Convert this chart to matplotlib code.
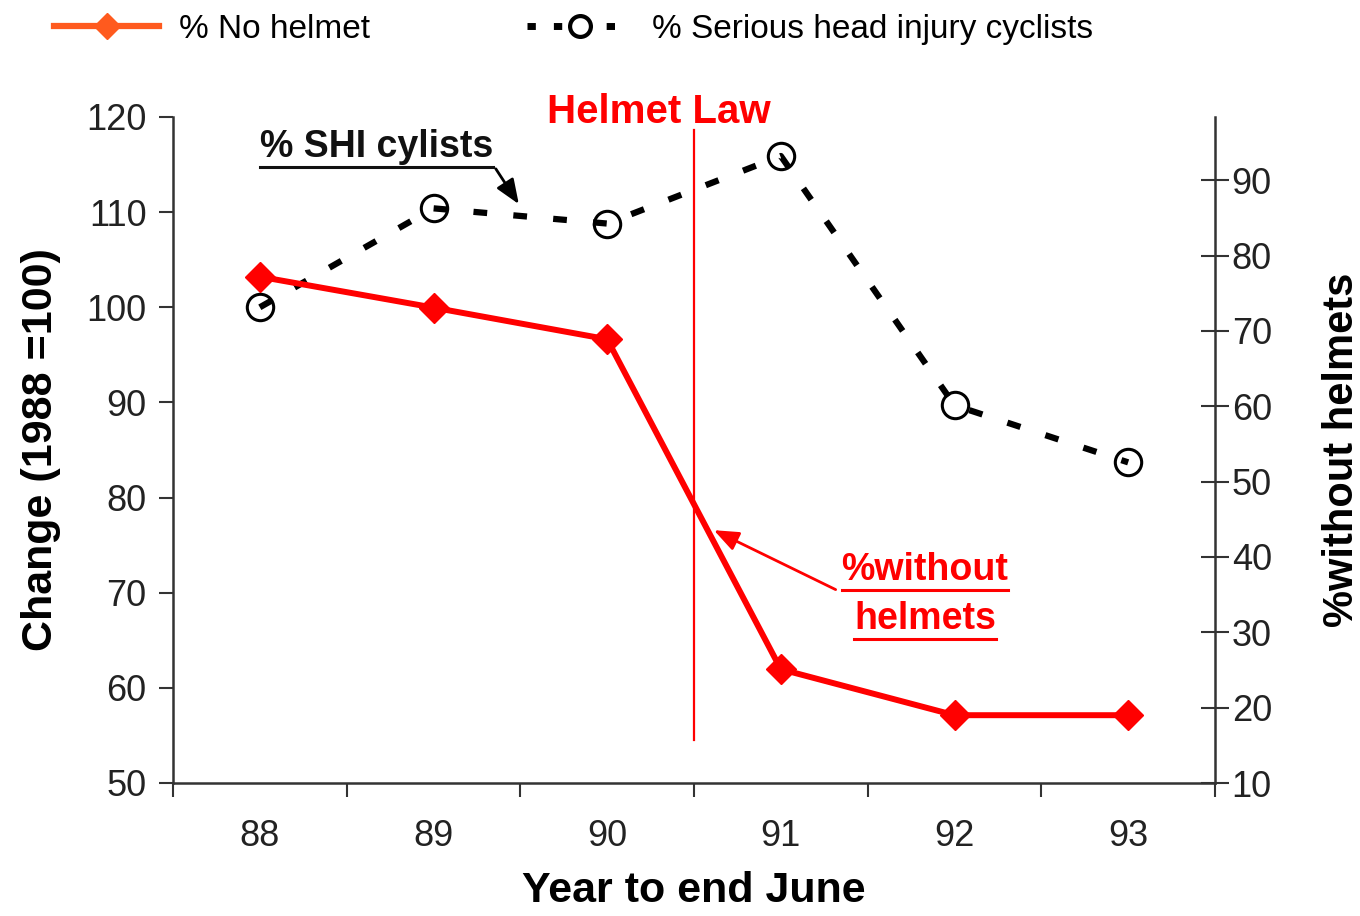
import matplotlib
matplotlib.use("Agg")
import matplotlib.pyplot as plt
from matplotlib.lines import Line2D

plt.rcParams['font.family'] = ['Liberation Sans', 'DejaVu Sans']

# Data
years = [88, 89, 90, 91, 92, 93]
year_labels = ["88", "89", "90", "91", "92", "93"]
shi_change = [100.0, 110.4, 108.8, 115.9, 89.7, 83.7]     # left axis, 1988 = 100
no_helmet_pct = [77.2, 73.1, 68.9, 25.1, 19.0, 19.0]      # right axis, %
law_year = 90.5

fig = plt.figure(figsize=(13.6, 9.16), dpi=100)
ax = fig.add_axes([173/1360, 1 - 783/916, (1215 - 173)/1360, (783 - 117)/916])
ax2 = ax.twinx()

# serious head injury (left axis)
ax.plot(years, shi_change, color="black", lw=4.5, ls=(0, (2.2, 4.2)),
        marker="o", ms=19, mfc="none", mec="black", mew=2.2, zorder=3)

# helmet law line
ax.plot([law_year, law_year], [54.5, 118.6], color="red", lw=1.6, zorder=2)

# % without helmet (right axis)
ax2.plot(years, no_helmet_pct, color="red", lw=4.3, marker="D", ms=15,
         mfc="red", mec="red", zorder=4)

ax.set_xlim(87.5, 93.5)
ax.set_ylim(50, 120)
ax2.set_ylim(10, 98.4)

tc = "#222222"
ax.set_yticks(range(50, 121, 10))
ax.tick_params(axis="y", direction="out", length=10, width=1.5, color="#333333",
               labelsize=26, labelcolor=tc, pad=9)
edges = [87.5 + i for i in range(7)]
ax.set_xticks(edges)
ax.set_xticklabels([""] * len(edges))
ax.set_xticks(years, minor=True)
ax.set_xticklabels(year_labels, minor=True)
ax.tick_params(axis="x", which="major", direction="out", length=10, width=1.5, color="#333333")
ax.tick_params(axis="x", which="minor", length=0, labelsize=26, labelcolor=tc, pad=26)

ax2.set_yticks(range(10, 91, 10))
ax2.tick_params(axis="y", direction="inout", length=20, width=1.5, color="#333333",
                labelsize=26, labelcolor=tc, pad=2)

for s in ["top", "right"]:
    ax.spines[s].set_visible(False)
for s in ["top", "left", "bottom"]:
    ax2.spines[s].set_visible(False)
for a in (ax, ax2):
    for s in a.spines.values():
        s.set_linewidth(1.8)
        s.set_color("#333333")

ax.set_ylabel("Change (1988 =100)", fontsize=31, fontweight="bold", labelpad=18)
ax2.set_ylabel("%without helmets", fontsize=30, fontweight="bold", labelpad=36)
ax.set_xlabel("Year to end June", fontsize=31, fontweight="bold", labelpad=12)

# annotations
ax.text(90.3, 120.5, "Helmet Law", color="red", fontsize=29, fontweight="bold",
        ha="center", va="center", clip_on=False)
t_shi = ax.text(88.0, 116.8, "% SHI cylists", color="#111111", fontsize=27,
                fontweight="bold", ha="left", va="center")
ax.annotate("", xy=(89.5, 110.6), xytext=(89.35, 114.8),
            arrowprops=dict(arrowstyle="-|>,head_length=1.5,head_width=0.6",
                            color="black", lw=2))
t_w1 = ax.text(91.83, 72.4, "%without", color="red", fontsize=27,
               fontweight="bold", ha="center", va="center")
t_w2 = ax.text(91.83, 67.2, "helmets", color="red", fontsize=27,
               fontweight="bold", ha="center", va="center")
ax.annotate("", xy=(90.6, 76.7), xytext=(91.33, 70.2),
            arrowprops=dict(arrowstyle="-|>,head_length=1.5,head_width=0.6",
                            color="red", lw=2))

# legend
handles = [
    Line2D([], [], color="#FF5A1E", lw=4.5, marker="D", ms=13, mfc="#FF5A1E", mec="#FF5A1E"),
    Line2D([], [], color="black", lw=5, ls=(0, (1.2, 2.6)), marker="o", ms=15,
           mfc="white", mec="black", mew=3),
]
fig.legend(handles, ["% No helmet", "% Serious head injury cyclists"],
           loc="upper left", bbox_to_anchor=(0.04, 0.985), ncol=2, frameon=False,
           fontsize=24, handlelength=3.15, handletextpad=0.6, columnspacing=4.7,
           borderpad=0, borderaxespad=0)

# underline the annotation texts
fig.canvas.draw()
inv = fig.transFigure.inverted()
for t, col in [(t_shi, "#111111"), (t_w1, "red"), (t_w2, "red")]:
    bb = t.get_window_extent()
    (x0, y0) = inv.transform((bb.x0, bb.y0 - 2))
    (x1, _) = inv.transform((bb.x1, bb.y0 - 2))
    fig.add_artist(Line2D([x0, x1], [y0, y0], color=col, lw=2.2))

fig.savefig("out.png", dpi=100)
